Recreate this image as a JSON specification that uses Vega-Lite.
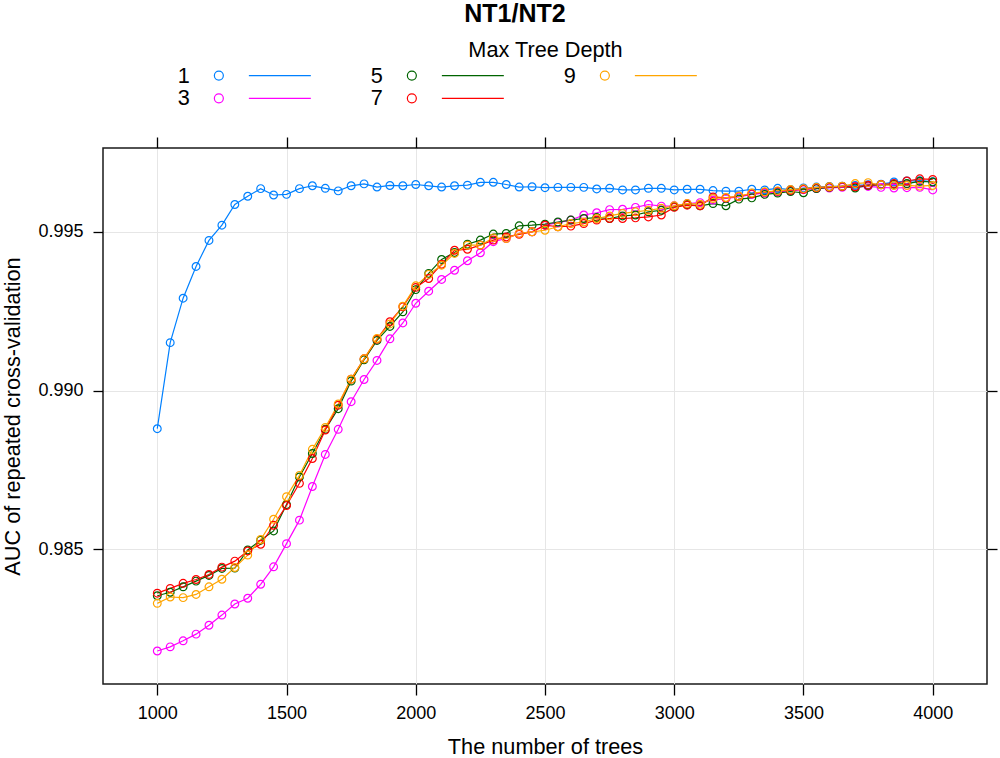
{
  "$schema": "https://vega.github.io/schema/vega-lite/v6.json",
  "width": 884,
  "height": 536,
  "autosize": {"type": "none"},
  "padding": {"left": 103, "top": 148, "right": 13, "bottom": 74},
  "background": "white",
  "title": {
    "text": "NT1/NT2",
    "frame": "group",
    "anchor": "middle",
    "dx": -30,
    "dy": -8,
    "font": "Liberation Sans",
    "fontSize": 25,
    "fontWeight": "bold",
    "color": "black"
  },
  "config": {
    "font": "Liberation Sans",
    "view": {"stroke": "#1a1a1a", "strokeWidth": 1.5},
    "axis": {
      "domain": false,
      "gridColor": "#e6e6e6",
      "gridWidth": 1,
      "tickColor": "black",
      "tickWidth": 1.3,
      "labelColor": "black",
      "labelFont": "Liberation Sans",
      "labelFontSize": 18,
      "titleColor": "black",
      "titleFont": "Liberation Sans",
      "titleFontSize": 21.7,
      "titleFontWeight": "normal"
    }
  },
  "data": {
    "values": [
      {"trees":1000,"depth":1,"auc":0.98880},{"trees":1050,"depth":1,"auc":0.99151},{"trees":1100,"depth":1,"auc":0.99291},{"trees":1150,"depth":1,"auc":0.99391},
      {"trees":1200,"depth":1,"auc":0.99473},{"trees":1250,"depth":1,"auc":0.99521},{"trees":1300,"depth":1,"auc":0.99586},{"trees":1350,"depth":1,"auc":0.99612},
      {"trees":1400,"depth":1,"auc":0.99636},{"trees":1450,"depth":1,"auc":0.99616},{"trees":1500,"depth":1,"auc":0.99618},{"trees":1550,"depth":1,"auc":0.99636},
      {"trees":1600,"depth":1,"auc":0.99645},{"trees":1650,"depth":1,"auc":0.99637},{"trees":1700,"depth":1,"auc":0.99629},{"trees":1750,"depth":1,"auc":0.99645},
      {"trees":1800,"depth":1,"auc":0.99651},{"trees":1850,"depth":1,"auc":0.99641},{"trees":1900,"depth":1,"auc":0.99646},{"trees":1950,"depth":1,"auc":0.99645},
      {"trees":2000,"depth":1,"auc":0.99649},{"trees":2050,"depth":1,"auc":0.99645},{"trees":2100,"depth":1,"auc":0.99641},{"trees":2150,"depth":1,"auc":0.99645},
      {"trees":2200,"depth":1,"auc":0.99647},{"trees":2250,"depth":1,"auc":0.99656},{"trees":2300,"depth":1,"auc":0.99656},{"trees":2350,"depth":1,"auc":0.99649},
      {"trees":2400,"depth":1,"auc":0.99641},{"trees":2450,"depth":1,"auc":0.99642},{"trees":2500,"depth":1,"auc":0.99639},{"trees":2550,"depth":1,"auc":0.99640},
      {"trees":2600,"depth":1,"auc":0.99640},{"trees":2650,"depth":1,"auc":0.99640},{"trees":2700,"depth":1,"auc":0.99635},{"trees":2750,"depth":1,"auc":0.99637},
      {"trees":2800,"depth":1,"auc":0.99632},{"trees":2850,"depth":1,"auc":0.99632},{"trees":2900,"depth":1,"auc":0.99637},{"trees":2950,"depth":1,"auc":0.99637},
      {"trees":3000,"depth":1,"auc":0.99632},{"trees":3050,"depth":1,"auc":0.99634},{"trees":3100,"depth":1,"auc":0.99634},{"trees":3150,"depth":1,"auc":0.99630},
      {"trees":3200,"depth":1,"auc":0.99628},{"trees":3250,"depth":1,"auc":0.99628},{"trees":3300,"depth":1,"auc":0.99634},{"trees":3350,"depth":1,"auc":0.99632},
      {"trees":3400,"depth":1,"auc":0.99637},{"trees":3450,"depth":1,"auc":0.99633},{"trees":3500,"depth":1,"auc":0.99638},{"trees":3550,"depth":1,"auc":0.99641},
      {"trees":3600,"depth":1,"auc":0.99643},{"trees":3650,"depth":1,"auc":0.99644},{"trees":3700,"depth":1,"auc":0.99646},{"trees":3750,"depth":1,"auc":0.99648},
      {"trees":3800,"depth":1,"auc":0.99650},{"trees":3850,"depth":1,"auc":0.99657},{"trees":3900,"depth":1,"auc":0.99660},{"trees":3950,"depth":1,"auc":0.99661},
      {"trees":4000,"depth":1,"auc":0.99658},

      {"trees":1000,"depth":3,"auc":0.98180},{"trees":1050,"depth":3,"auc":0.98193},{"trees":1100,"depth":3,"auc":0.98212},{"trees":1150,"depth":3,"auc":0.98233},
      {"trees":1200,"depth":3,"auc":0.98261},{"trees":1250,"depth":3,"auc":0.98293},{"trees":1300,"depth":3,"auc":0.98328},{"trees":1350,"depth":3,"auc":0.98346},
      {"trees":1400,"depth":3,"auc":0.98390},{"trees":1450,"depth":3,"auc":0.98445},{"trees":1500,"depth":3,"auc":0.98518},{"trees":1550,"depth":3,"auc":0.98592},
      {"trees":1600,"depth":3,"auc":0.98698},{"trees":1650,"depth":3,"auc":0.98799},{"trees":1700,"depth":3,"auc":0.98878},{"trees":1750,"depth":3,"auc":0.98965},
      {"trees":1800,"depth":3,"auc":0.99035},{"trees":1850,"depth":3,"auc":0.99095},{"trees":1900,"depth":3,"auc":0.99163},{"trees":1950,"depth":3,"auc":0.99213},
      {"trees":2000,"depth":3,"auc":0.99275},{"trees":2050,"depth":3,"auc":0.99313},{"trees":2100,"depth":3,"auc":0.99350},{"trees":2150,"depth":3,"auc":0.99379},
      {"trees":2200,"depth":3,"auc":0.99409},{"trees":2250,"depth":3,"auc":0.99434},{"trees":2300,"depth":3,"auc":0.99469},{"trees":2350,"depth":3,"auc":0.99479},
      {"trees":2400,"depth":3,"auc":0.99495},{"trees":2450,"depth":3,"auc":0.99500},{"trees":2500,"depth":3,"auc":0.99521},{"trees":2550,"depth":3,"auc":0.99529},
      {"trees":2600,"depth":3,"auc":0.99537},{"trees":2650,"depth":3,"auc":0.99553},{"trees":2700,"depth":3,"auc":0.99560},{"trees":2750,"depth":3,"auc":0.99570},
      {"trees":2800,"depth":3,"auc":0.99571},{"trees":2850,"depth":3,"auc":0.99577},{"trees":2900,"depth":3,"auc":0.99586},{"trees":2950,"depth":3,"auc":0.99581},
      {"trees":3000,"depth":3,"auc":0.99582},{"trees":3050,"depth":3,"auc":0.99589},{"trees":3100,"depth":3,"auc":0.99592},{"trees":3150,"depth":3,"auc":0.99600},
      {"trees":3200,"depth":3,"auc":0.99605},{"trees":3250,"depth":3,"auc":0.99610},{"trees":3300,"depth":3,"auc":0.99618},{"trees":3350,"depth":3,"auc":0.99622},
      {"trees":3400,"depth":3,"auc":0.99626},{"trees":3450,"depth":3,"auc":0.99630},{"trees":3500,"depth":3,"auc":0.99633},{"trees":3550,"depth":3,"auc":0.99636},
      {"trees":3600,"depth":3,"auc":0.99638},{"trees":3650,"depth":3,"auc":0.99640},{"trees":3700,"depth":3,"auc":0.99642},{"trees":3750,"depth":3,"auc":0.99643},
      {"trees":3800,"depth":3,"auc":0.99640},{"trees":3850,"depth":3,"auc":0.99638},{"trees":3900,"depth":3,"auc":0.99639},{"trees":3950,"depth":3,"auc":0.99640},
      {"trees":4000,"depth":3,"auc":0.99632},

      {"trees":1000,"depth":5,"auc":0.98354},{"trees":1050,"depth":5,"auc":0.98365},{"trees":1100,"depth":5,"auc":0.98382},{"trees":1150,"depth":5,"auc":0.98400},
      {"trees":1200,"depth":5,"auc":0.98418},{"trees":1250,"depth":5,"auc":0.98440},{"trees":1300,"depth":5,"auc":0.98441},{"trees":1350,"depth":5,"auc":0.98498},
      {"trees":1400,"depth":5,"auc":0.98529},{"trees":1450,"depth":5,"auc":0.98558},{"trees":1500,"depth":5,"auc":0.98641},{"trees":1550,"depth":5,"auc":0.98728},
      {"trees":1600,"depth":5,"auc":0.98802},{"trees":1650,"depth":5,"auc":0.98878},{"trees":1700,"depth":5,"auc":0.98943},{"trees":1750,"depth":5,"auc":0.99030},
      {"trees":1800,"depth":5,"auc":0.99097},{"trees":1850,"depth":5,"auc":0.99158},{"trees":1900,"depth":5,"auc":0.99202},{"trees":1950,"depth":5,"auc":0.99248},
      {"trees":2000,"depth":5,"auc":0.99318},{"trees":2050,"depth":5,"auc":0.99369},{"trees":2100,"depth":5,"auc":0.99413},{"trees":2150,"depth":5,"auc":0.99435},
      {"trees":2200,"depth":5,"auc":0.99461},{"trees":2250,"depth":5,"auc":0.99474},{"trees":2300,"depth":5,"auc":0.99493},{"trees":2350,"depth":5,"auc":0.99495},
      {"trees":2400,"depth":5,"auc":0.99519},{"trees":2450,"depth":5,"auc":0.99521},{"trees":2500,"depth":5,"auc":0.99524},{"trees":2550,"depth":5,"auc":0.99531},
      {"trees":2600,"depth":5,"auc":0.99537},{"trees":2650,"depth":5,"auc":0.99542},{"trees":2700,"depth":5,"auc":0.99545},{"trees":2750,"depth":5,"auc":0.99542},
      {"trees":2800,"depth":5,"auc":0.99550},{"trees":2850,"depth":5,"auc":0.99553},{"trees":2900,"depth":5,"auc":0.99563},{"trees":2950,"depth":5,"auc":0.99568},
      {"trees":3000,"depth":5,"auc":0.99579},{"trees":3050,"depth":5,"auc":0.99586},{"trees":3100,"depth":5,"auc":0.99582},{"trees":3150,"depth":5,"auc":0.99589},
      {"trees":3200,"depth":5,"auc":0.99582},{"trees":3250,"depth":5,"auc":0.99603},{"trees":3300,"depth":5,"auc":0.99607},{"trees":3350,"depth":5,"auc":0.99618},
      {"trees":3400,"depth":5,"auc":0.99622},{"trees":3450,"depth":5,"auc":0.99627},{"trees":3500,"depth":5,"auc":0.99623},{"trees":3550,"depth":5,"auc":0.99636},
      {"trees":3600,"depth":5,"auc":0.99640},{"trees":3650,"depth":5,"auc":0.99643},{"trees":3700,"depth":5,"auc":0.99638},{"trees":3750,"depth":5,"auc":0.99646},
      {"trees":3800,"depth":5,"auc":0.99648},{"trees":3850,"depth":5,"auc":0.99650},{"trees":3900,"depth":5,"auc":0.99652},{"trees":3950,"depth":5,"auc":0.99659},
      {"trees":4000,"depth":5,"auc":0.99657},

      {"trees":1000,"depth":7,"auc":0.98362},{"trees":1050,"depth":7,"auc":0.98377},{"trees":1100,"depth":7,"auc":0.98393},{"trees":1150,"depth":7,"auc":0.98405},
      {"trees":1200,"depth":7,"auc":0.98421},{"trees":1250,"depth":7,"auc":0.98444},{"trees":1300,"depth":7,"auc":0.98463},{"trees":1350,"depth":7,"auc":0.98495},
      {"trees":1400,"depth":7,"auc":0.98516},{"trees":1450,"depth":7,"auc":0.98576},{"trees":1500,"depth":7,"auc":0.98638},{"trees":1550,"depth":7,"auc":0.98708},
      {"trees":1600,"depth":7,"auc":0.98786},{"trees":1650,"depth":7,"auc":0.98876},{"trees":1700,"depth":7,"auc":0.98954},{"trees":1750,"depth":7,"auc":0.99036},
      {"trees":1800,"depth":7,"auc":0.99100},{"trees":1850,"depth":7,"auc":0.99162},{"trees":1900,"depth":7,"auc":0.99217},{"trees":1950,"depth":7,"auc":0.99264},
      {"trees":2000,"depth":7,"auc":0.99325},{"trees":2050,"depth":7,"auc":0.99353},{"trees":2100,"depth":7,"auc":0.99398},{"trees":2150,"depth":7,"auc":0.99442},
      {"trees":2200,"depth":7,"auc":0.99445},{"trees":2250,"depth":7,"auc":0.99458},{"trees":2300,"depth":7,"auc":0.99474},{"trees":2350,"depth":7,"auc":0.99484},
      {"trees":2400,"depth":7,"auc":0.99492},{"trees":2450,"depth":7,"auc":0.99500},{"trees":2500,"depth":7,"auc":0.99521},{"trees":2550,"depth":7,"auc":0.99516},
      {"trees":2600,"depth":7,"auc":0.99518},{"trees":2650,"depth":7,"auc":0.99526},{"trees":2700,"depth":7,"auc":0.99537},{"trees":2750,"depth":7,"auc":0.99542},
      {"trees":2800,"depth":7,"auc":0.99542},{"trees":2850,"depth":7,"auc":0.99544},{"trees":2900,"depth":7,"auc":0.99547},{"trees":2950,"depth":7,"auc":0.99553},
      {"trees":3000,"depth":7,"auc":0.99577},{"trees":3050,"depth":7,"auc":0.99584},{"trees":3100,"depth":7,"auc":0.99582},{"trees":3150,"depth":7,"auc":0.99610},
      {"trees":3200,"depth":7,"auc":0.99607},{"trees":3250,"depth":7,"auc":0.99612},{"trees":3300,"depth":7,"auc":0.99620},{"trees":3350,"depth":7,"auc":0.99625},
      {"trees":3400,"depth":7,"auc":0.99628},{"trees":3450,"depth":7,"auc":0.99631},{"trees":3500,"depth":7,"auc":0.99634},{"trees":3550,"depth":7,"auc":0.99639},
      {"trees":3600,"depth":7,"auc":0.99641},{"trees":3650,"depth":7,"auc":0.99643},{"trees":3700,"depth":7,"auc":0.99642},{"trees":3750,"depth":7,"auc":0.99647},
      {"trees":3800,"depth":7,"auc":0.99649},{"trees":3850,"depth":7,"auc":0.99652},{"trees":3900,"depth":7,"auc":0.99660},{"trees":3950,"depth":7,"auc":0.99667},
      {"trees":4000,"depth":7,"auc":0.99665},

      {"trees":1000,"depth":9,"auc":0.98330},{"trees":1050,"depth":9,"auc":0.98350},{"trees":1100,"depth":9,"auc":0.98348},{"trees":1150,"depth":9,"auc":0.98358},
      {"trees":1200,"depth":9,"auc":0.98382},{"trees":1250,"depth":9,"auc":0.98406},{"trees":1300,"depth":9,"auc":0.98443},{"trees":1350,"depth":9,"auc":0.98482},
      {"trees":1400,"depth":9,"auc":0.98531},{"trees":1450,"depth":9,"auc":0.98595},{"trees":1500,"depth":9,"auc":0.98666},{"trees":1550,"depth":9,"auc":0.98733},
      {"trees":1600,"depth":9,"auc":0.98815},{"trees":1650,"depth":9,"auc":0.98884},{"trees":1700,"depth":9,"auc":0.98958},{"trees":1750,"depth":9,"auc":0.99036},
      {"trees":1800,"depth":9,"auc":0.99100},{"trees":1850,"depth":9,"auc":0.99164},{"trees":1900,"depth":9,"auc":0.99210},{"trees":1950,"depth":9,"auc":0.99266},
      {"trees":2000,"depth":9,"auc":0.99330},{"trees":2050,"depth":9,"auc":0.99366},{"trees":2100,"depth":9,"auc":0.99395},{"trees":2150,"depth":9,"auc":0.99432},
      {"trees":2200,"depth":9,"auc":0.99458},{"trees":2250,"depth":9,"auc":0.99458},{"trees":2300,"depth":9,"auc":0.99481},{"trees":2350,"depth":9,"auc":0.99479},
      {"trees":2400,"depth":9,"auc":0.99495},{"trees":2450,"depth":9,"auc":0.99500},{"trees":2500,"depth":9,"auc":0.99505},{"trees":2550,"depth":9,"auc":0.99516},
      {"trees":2600,"depth":9,"auc":0.99526},{"trees":2650,"depth":9,"auc":0.99531},{"trees":2700,"depth":9,"auc":0.99542},{"trees":2750,"depth":9,"auc":0.99550},
      {"trees":2800,"depth":9,"auc":0.99558},{"trees":2850,"depth":9,"auc":0.99563},{"trees":2900,"depth":9,"auc":0.99568},{"trees":2950,"depth":9,"auc":0.99574},
      {"trees":3000,"depth":9,"auc":0.99582},{"trees":3050,"depth":9,"auc":0.99589},{"trees":3100,"depth":9,"auc":0.99587},{"trees":3150,"depth":9,"auc":0.99605},
      {"trees":3200,"depth":9,"auc":0.99608},{"trees":3250,"depth":9,"auc":0.99612},{"trees":3300,"depth":9,"auc":0.99622},{"trees":3350,"depth":9,"auc":0.99626},
      {"trees":3400,"depth":9,"auc":0.99629},{"trees":3450,"depth":9,"auc":0.99633},{"trees":3500,"depth":9,"auc":0.99636},{"trees":3550,"depth":9,"auc":0.99640},
      {"trees":3600,"depth":9,"auc":0.99642},{"trees":3650,"depth":9,"auc":0.99644},{"trees":3700,"depth":9,"auc":0.99652},{"trees":3750,"depth":9,"auc":0.99655},
      {"trees":3800,"depth":9,"auc":0.99648},{"trees":3850,"depth":9,"auc":0.99646},{"trees":3900,"depth":9,"auc":0.99646},{"trees":3950,"depth":9,"auc":0.99644},
      {"trees":4000,"depth":9,"auc":0.99646}
    ]
  },
  "layer": [
    {
      "mark": {"type": "line", "strokeWidth": 1.2},
      "encoding": {
        "x": {
          "field": "trees",
          "type": "quantitative",
          "scale": {"domain": [790, 4210], "nice": false, "zero": false},
          "axis": {
            "orient": "bottom",
            "values": [1000, 1500, 2000, 2500, 3000, 3500, 4000],
            "format": "d",
            "grid": true,
            "tickSize": 11,
            "labelPadding": 23,
            "labelBaseline": "alphabetic",
            "title": "The number of trees",
            "titleY": 69,
            "titleBaseline": "alphabetic"
          }
        },
        "y": {
          "field": "auc",
          "type": "quantitative",
          "scale": {"domain": [0.98076, 0.99764], "nice": false, "zero": false},
          "axis": {
            "orient": "left",
            "values": [0.985, 0.99, 0.995],
            "format": ".3f",
            "grid": true,
            "tickSize": 10,
            "labelPadding": 10,
            "title": "AUC of repeated cross-validation",
            "titleX": -84,
            "titleY": 268,
            "titleBaseline": "alphabetic"
          }
        },
        "color": {
          "field": "depth",
          "type": "nominal",
          "scale": {
            "domain": [1, 5, 9, 3, 7],
            "range": ["#0080ff", "#006400", "#ffa500", "#ff00ff", "#ff0000"]
          },
          "legend": {
            "orient": "none",
            "legendX": 73,
            "legendY": -83.5,
            "direction": "horizontal",
            "columns": 3,
            "title": null,
            "padding": 0,
            "columnPadding": 55,
            "rowPadding": -4,
            "symbolType": "M-1,0A1,1,0,1,1,1,0A1,1,0,1,1,-1,0M6.67,0L20.44,0",
            "symbolSize": 81,
            "symbolStrokeWidth": 1.2,
            "symbolFillColor": "transparent",
            "symbolOpacity": 1,
            "symbolOffset": 32,
            "labelOffset": -52,
            "labelFont": "Liberation Sans",
            "labelFontSize": 21.7,
            "labelColor": "black"
          }
        }
      }
    },
    {
      "mark": {"type": "point", "shape": "circle", "filled": false, "size": 60, "strokeWidth": 1.2, "opacity": 1},
      "encoding": {
        "x": {
          "field": "trees",
          "type": "quantitative",
          "axis": {
            "orient": "top",
            "values": [1000, 1500, 2000, 2500, 3000, 3500, 4000],
            "labels": false,
            "grid": false,
            "tickSize": 11,
            "title": "Max Tree Depth",
            "titleY": -92,
            "titleBaseline": "alphabetic"
          }
        },
        "y": {
          "field": "auc",
          "type": "quantitative",
          "axis": {
            "orient": "right",
            "values": [0.985, 0.99, 0.995],
            "labels": false,
            "grid": false,
            "tickSize": 10,
            "title": null
          }
        },
        "color": {
          "field": "depth",
          "type": "nominal"
        }
      }
    }
  ],
  "resolve": {"axis": {"x": "independent", "y": "independent"}}
}
